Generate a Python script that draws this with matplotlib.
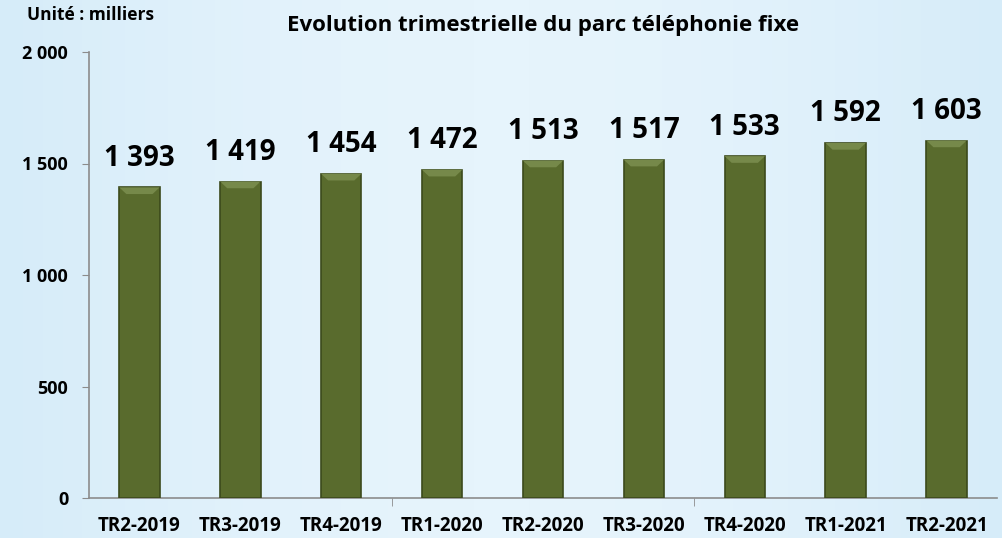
import matplotlib
matplotlib.use("Agg")
import matplotlib.pyplot as plt
import numpy as np
from matplotlib.ticker import FuncFormatter, FixedLocator
from matplotlib.colors import LinearSegmentedColormap

categories = ["TR2-2019", "TR3-2019", "TR4-2019", "TR1-2020", "TR2-2020",
              "TR3-2020", "TR4-2020", "TR1-2021", "TR2-2021"]
values = [1393, 1419, 1454, 1472, 1513, 1517, 1533, 1592, 1603]
yticks = [0, 500, 1000, 1500, 2000]

plt.rcParams['font.family'] = ['Open Sans', 'DejaVu Sans']
plt.rcParams['font.weight'] = 'bold'

fig = plt.figure(figsize=(10.03, 5.38), dpi=100)
bg = fig.add_axes([0, 0, 1, 1], zorder=-10)
gx = np.linspace(0, 1, 256)
grad = np.outer(np.ones(10), 0.5 + 0.5 * np.sin(gx * np.pi))
cmap = LinearSegmentedColormap.from_list("bg", ["#d6ecf9", "#e6f4fc"])
bg.imshow(grad, aspect='auto', cmap=cmap, extent=[0, 1, 0, 1])
bg.axis('off')

ax = fig.add_axes([89 / 1003, 1 - 498 / 538, (997 - 89) / 1003, (498 - 52) / 538])
ax.patch.set_alpha(0)
x = np.arange(len(categories))
bars = ax.bar(x, values, width=0.4, color="#596b2d", edgecolor="#3c4a1c", linewidth=1.2, zorder=3)

for b in bars:
    bx, bw, bh = b.get_x(), b.get_width(), b.get_height()
    d = 0.07
    ax.fill([bx, bx + bw, bx + bw - d, bx + d], [bh, bh, bh - 30, bh - 30],
            color="#76894a", zorder=4, linewidth=0)

for xi, v in zip(x, values):
    ax.text(xi, v + 130, f"{v:,}".replace(",", " "), ha='center', va='center',
            fontsize=20, fontweight='bold', color='black')

ax.set_xlim(-0.5, len(categories) - 0.5)
ax.set_ylim(0, 2000)
ax.yaxis.set_major_locator(FixedLocator(yticks))
ax.yaxis.set_major_formatter(FuncFormatter(lambda v, p: f"{int(v):,}".replace(",", " ")))
ax.set_xticks(x)
ax.set_xticklabels(categories)
ax.tick_params(axis='x', length=0, pad=13, labelsize=13.5)
ax.set_xticks([2.5, 5.5], minor=True)
ax.tick_params(axis='x', which='minor', length=6, color='#8c8c8c')
ax.tick_params(axis='y', length=5, color='#8c8c8c', labelsize=13, pad=10)
for lab in ax.get_xticklabels() + ax.get_yticklabels():
    lab.set_fontweight('bold')

for s in ['top', 'right']:
    ax.spines[s].set_visible(False)
for s in ['left', 'bottom']:
    ax.spines[s].set_color('#8c8c8c')
    ax.spines[s].set_linewidth(1.2)

fig.text(543 / 1003, 1 - 26 / 538, "Evolution trimestrielle du parc téléphonie fixe",
         ha='center', va='center', fontsize=16, fontweight='bold')
fig.text(27 / 1003, 1 - 15 / 538, "Unité : milliers", ha='left', va='center',
         fontsize=12.5, fontweight='bold')

fig.savefig("out.png", dpi=100)
